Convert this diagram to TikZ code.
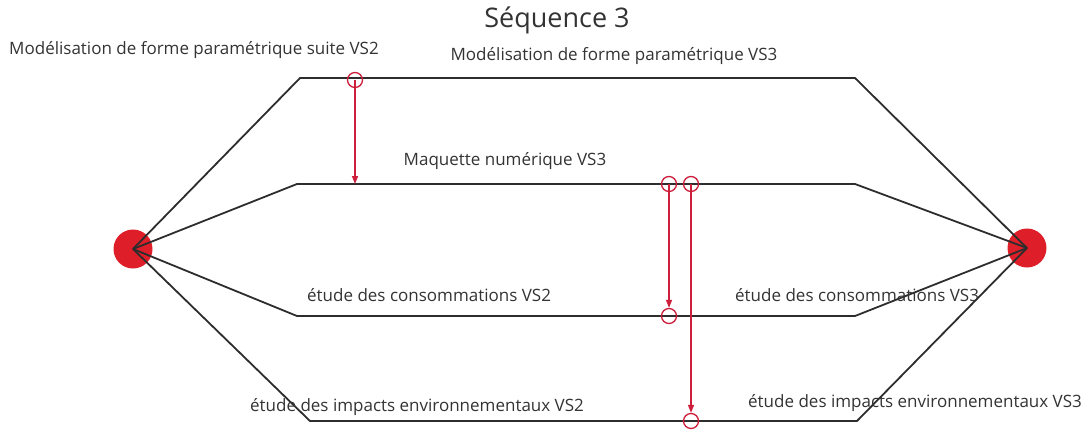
\documentclass[tikz,border=0pt]{standalone}
\usepackage{fontspec}
\setmainfont{Open Sans}
\usetikzlibrary{arrows.meta}
\definecolor{dotred}{RGB}{222,30,40}
\definecolor{linkred}{RGB}{205,30,60}
\definecolor{track}{RGB}{45,45,45}
\tikzset{
  trackline/.style={draw=track,line width=1.8pt,line join=round},
  enddot/.style={circle,fill=dotred,minimum size=39pt,inner sep=0pt},
  ring/.style={circle,draw=linkred,line width=1.3pt,minimum size=15pt,inner sep=0pt},
  link/.style={draw=linkred,line width=1.4pt,-{Triangle[length=8pt,width=6pt]}},
  lbl/.style={font=\fontsize{17}{19}\selectfont,text=black!80,inner sep=0pt},
}
\begin{document}
\begin{tikzpicture}[x=1pt,y=-1pt]
\useasboundingbox (0,0) rectangle (1092,429);
\node[enddot] (L) at (133,249) {};
\node[enddot] (R) at (1027,248) {};
% corners
\coordinate (a1) at (300,78);  \coordinate (a2) at (855,78);
\coordinate (b1) at (297,184); \coordinate (b2) at (855,184);
\coordinate (c1) at (297,316); \coordinate (c2) at (855,316);
\coordinate (d1) at (310,421); \coordinate (d2) at (857,421);
\draw[trackline] (L.center) -- (a1) -- (a2) -- (R.center);
\draw[trackline] (L.center) -- (b1) -- (b2) -- (R.center);
\draw[trackline] (L.center) -- (c1) -- (c2) -- (R.center);
\draw[trackline] (L.center) -- (d1) -- (d2) -- (R.center);
% rings
\node[ring] (r1) at (355,80) {};
\coordinate (t1) at (355,184);
\node[ring] (r2) at (669,184) {};
\node[ring] (r3) at (691,184) {};
\node[ring] (r4) at (669,316) {};
\node[ring] (r5) at (691,421) {};
\draw[link] (r1.center) -- (t1);
\draw[link] (r2.center) -- (r4.north);
\draw[link] (r3.center) -- (r5.north);
% labels
\node[font=\fontsize{27}{30}\selectfont,text=black!80] (title) at (557,20) {Séquence 3};
\node[lbl] (m2) at (194,50) {Modélisation de forme paramétrique suite VS2};
\node[lbl] (m3) at (614,56) {Modélisation de forme paramétrique VS3};
\node[lbl] (mq) at (505,161) {Maquette numérique VS3};
\node[lbl,anchor=west] (c2l) at (307,295) {étude des consommations VS2};
\node[lbl,anchor=west] (c3l) at (735,295) {étude des consommations VS3};
\node[lbl,anchor=west] (i2l) at (250,407) {étude des impacts environnementaux VS2};
\node[lbl,anchor=west] (i3l) at (748,403) {étude des impacts environnementaux VS3};
\end{tikzpicture}
\end{document}
